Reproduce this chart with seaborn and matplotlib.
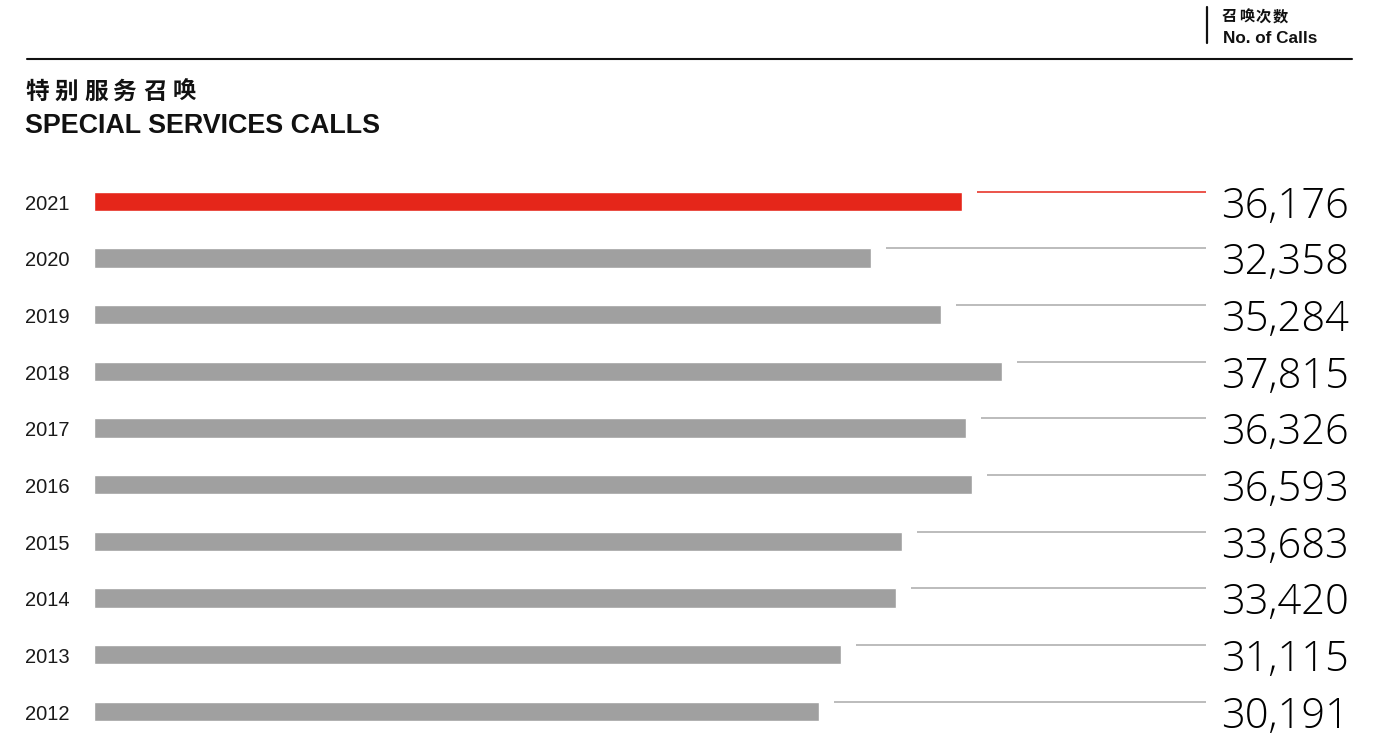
import matplotlib
matplotlib.use("Agg")
import matplotlib.pyplot as plt
import matplotlib.transforms as mtransforms
import seaborn as sns
import pandas as pd

years = ["2021", "2020", "2019", "2018", "2017", "2016", "2015", "2014", "2013", "2012"]
calls = [36176, 32358, 35284, 37815, 36326, 36593, 33683, 33420, 31115, 30191]
highlight_year = "2021"
title_zh = "特别服务召唤"
title_en = "SPECIAL SERVICES CALLS"
header_zh = "召唤次数"
header_en = "No. of Calls"

RED = "#E5261A"
GREY = "#A0A0A0"
LINE_GREY = "#AAAAAA"
INK = "#111111"

sns.set_theme(style="white")
plt.rcParams['font.family'] = ['Liberation Sans', 'Noto Sans CJK SC', 'DejaVu Sans']

W, H = 1392, 741
fig = plt.figure(figsize=(W / 100, H / 100), dpi=100)

# axes geometry in pixels
ax_left, ax_right = 94, 1206
ax_top, ax_bottom = 173.0, 739.6
ax = fig.add_axes([ax_left / W, 1 - ax_bottom / H, (ax_right - ax_left) / W, (ax_bottom - ax_top) / H])

df = pd.DataFrame({"year": years, "calls": calls})
palette = {y: (RED if y == highlight_year else GREY) for y in years}
sns.barplot(data=df, x="calls", y="year", hue="year", palette=palette, order=years,
            orient="h", width=0.34, legend=False, ax=ax, saturation=1)

px_per_unit = 0.0240
xmax = (ax_right - ax_left) / px_per_unit
ax.set_xlim(0, xmax)
ax.set_ylim(len(years) - 0.5, -0.5)
for s in ax.spines.values():
    s.set_visible(False)
ax.set_xticks([])
ax.set_yticks([])
ax.set_xlabel("")
ax.set_ylabel("")

gap = 15 / px_per_unit
fig_x = mtransforms.blended_transform_factory(fig.transFigure, ax.transData)
for i, (y, v) in enumerate(zip(years, calls)):
    c = RED if y == highlight_year else LINE_GREY
    ytop = i - 0.34 / 2
    ax.plot([v + gap, xmax], [ytop, ytop], color=c, lw=1.1, solid_capstyle="butt", clip_on=False)
    ax.text(1221 / W, i + 0.29, f"{v:,}", transform=fig_x, ha="left", va="baseline",
            fontsize=30, color="#000000", family=["Open Sans", "DejaVu Sans"], fontweight="light")
    ax.text(25 / W, i + 0.15, y, transform=fig_x, ha="left", va="baseline",
            fontsize=14.5, color="#1a1a1a", family=["Liberation Sans", "DejaVu Sans"])

# header
fig.add_artist(plt.Line2D([27 / W, 1352 / W], [1 - 59 / H, 1 - 59 / H], color=INK, lw=1.5))
fig.add_artist(plt.Line2D([1207 / W, 1207 / W], [1 - 7 / H, 1 - 43 / H], color=INK, lw=1.6))
for k, ch in enumerate(header_zh):
    fig.text((1222 + 17 * k) / W, 1 - 16.5 / H, ch, ha="left", va="center", fontsize=11,
             fontweight="bold", family=["Noto Sans CJK SC", "DejaVu Sans"], color=INK)
fig.text(1223 / W, 1 - 43 / H, header_en, ha="left", va="baseline", fontsize=12.3,
         fontweight="bold", family=["Liberation Sans", "DejaVu Sans"], color=INK)

# title
for k, ch in enumerate(title_zh):
    fig.text((25 + 29.5 * k) / W, 1 - 92 / H, ch, ha="left", va="center", fontsize=17,
             fontweight="bold", family=["Noto Sans CJK SC", "DejaVu Sans"], color=INK)
fig.text(25 / W, 1 - 133 / H, title_en, ha="left", va="baseline", fontsize=19.4,
         fontweight="bold", family=["Liberation Sans", "DejaVu Sans"], color=INK)

fig.savefig("out.png", dpi=100)
